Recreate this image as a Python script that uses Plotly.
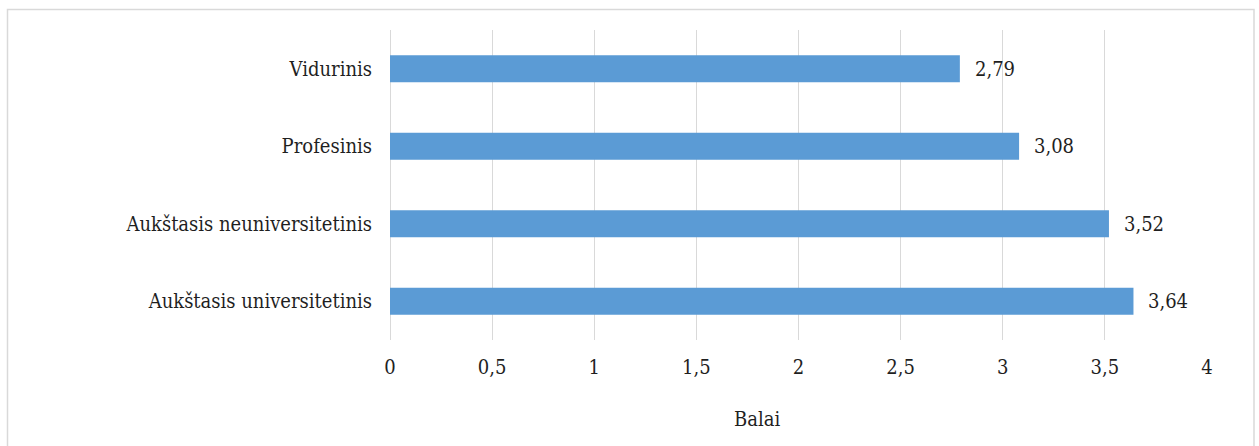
import plotly.graph_objects as go

categories = ["Vidurinis", "Profesinis", "Aukštasis neuniversitetinis", "Aukštasis universitetinis"]
values = [2.79, 3.08, 3.52, 3.64]
x_ticks = [0, 0.5, 1, 1.5, 2, 2.5, 3, 3.5, 4]
x_title = "Balai"

FONT = "DejaVu Serif Condensed"
FS = 20
TXT = "#1f1f1f"
GRID = "#d9d9d9"

W, H = 1259, 446
L, R, T, B = 390, 52, 30, 106
pw, ph = W - L - R, H - T - B

def px_x(p):
    return (p - L) / pw

def px_y(p):
    return (H - B - p) / ph

fig = go.Figure()
fig.add_trace(go.Bar(
    y=categories, x=values, orientation="h",
    marker=dict(color="#5b9bd5", line=dict(width=0)),
    width=0.35, hoverinfo="skip",
))

for c, v in zip(categories, values):
    fig.add_annotation(
        x=v, y=c, xref="x", yref="y",
        text=f"{v:.2f}".replace(".", ","),
        showarrow=False, xanchor="left", xshift=13,
        font=dict(family=FONT, size=FS, color=TXT),
    )

fig.add_annotation(
    x=px_x(757), y=px_y(419), xref="paper", yref="paper",
    text=x_title, showarrow=False, xanchor="center", yanchor="middle",
    font=dict(family=FONT, size=FS, color=TXT),
)

fig.add_shape(
    type="rect", xref="paper", yref="paper",
    x0=px_x(7.5), x1=px_x(1254), y0=px_y(460), y1=px_y(9.5),
    line=dict(color=GRID, width=1.5), fillcolor="rgba(0,0,0,0)", layer="below",
)

fig.update_layout(
    width=W, height=H,
    margin=dict(l=L, r=R, t=T, b=B, pad=0),
    paper_bgcolor="white", plot_bgcolor="white",
    separators=", ",
    showlegend=False,
    font=dict(family=FONT, size=FS, color=TXT),
    xaxis=dict(
        range=[0, 4], tickvals=x_ticks, showgrid=True,
        gridcolor=GRID, gridwidth=1.2, zeroline=True, zerolinecolor=GRID,
        zerolinewidth=1.2, showline=False, ticks="outside", ticklen=9,
        tickcolor="rgba(0,0,0,0)", tickfont=dict(family=FONT, size=FS, color=TXT),
        fixedrange=True,
    ),
    yaxis=dict(
        autorange="reversed", showgrid=False, showline=False, zeroline=False,
        ticks="outside", ticklen=13, tickcolor="rgba(0,0,0,0)",
        tickfont=dict(family=FONT, size=FS, color=TXT), fixedrange=True,
    ),
)

fig.write_html("out.html")
